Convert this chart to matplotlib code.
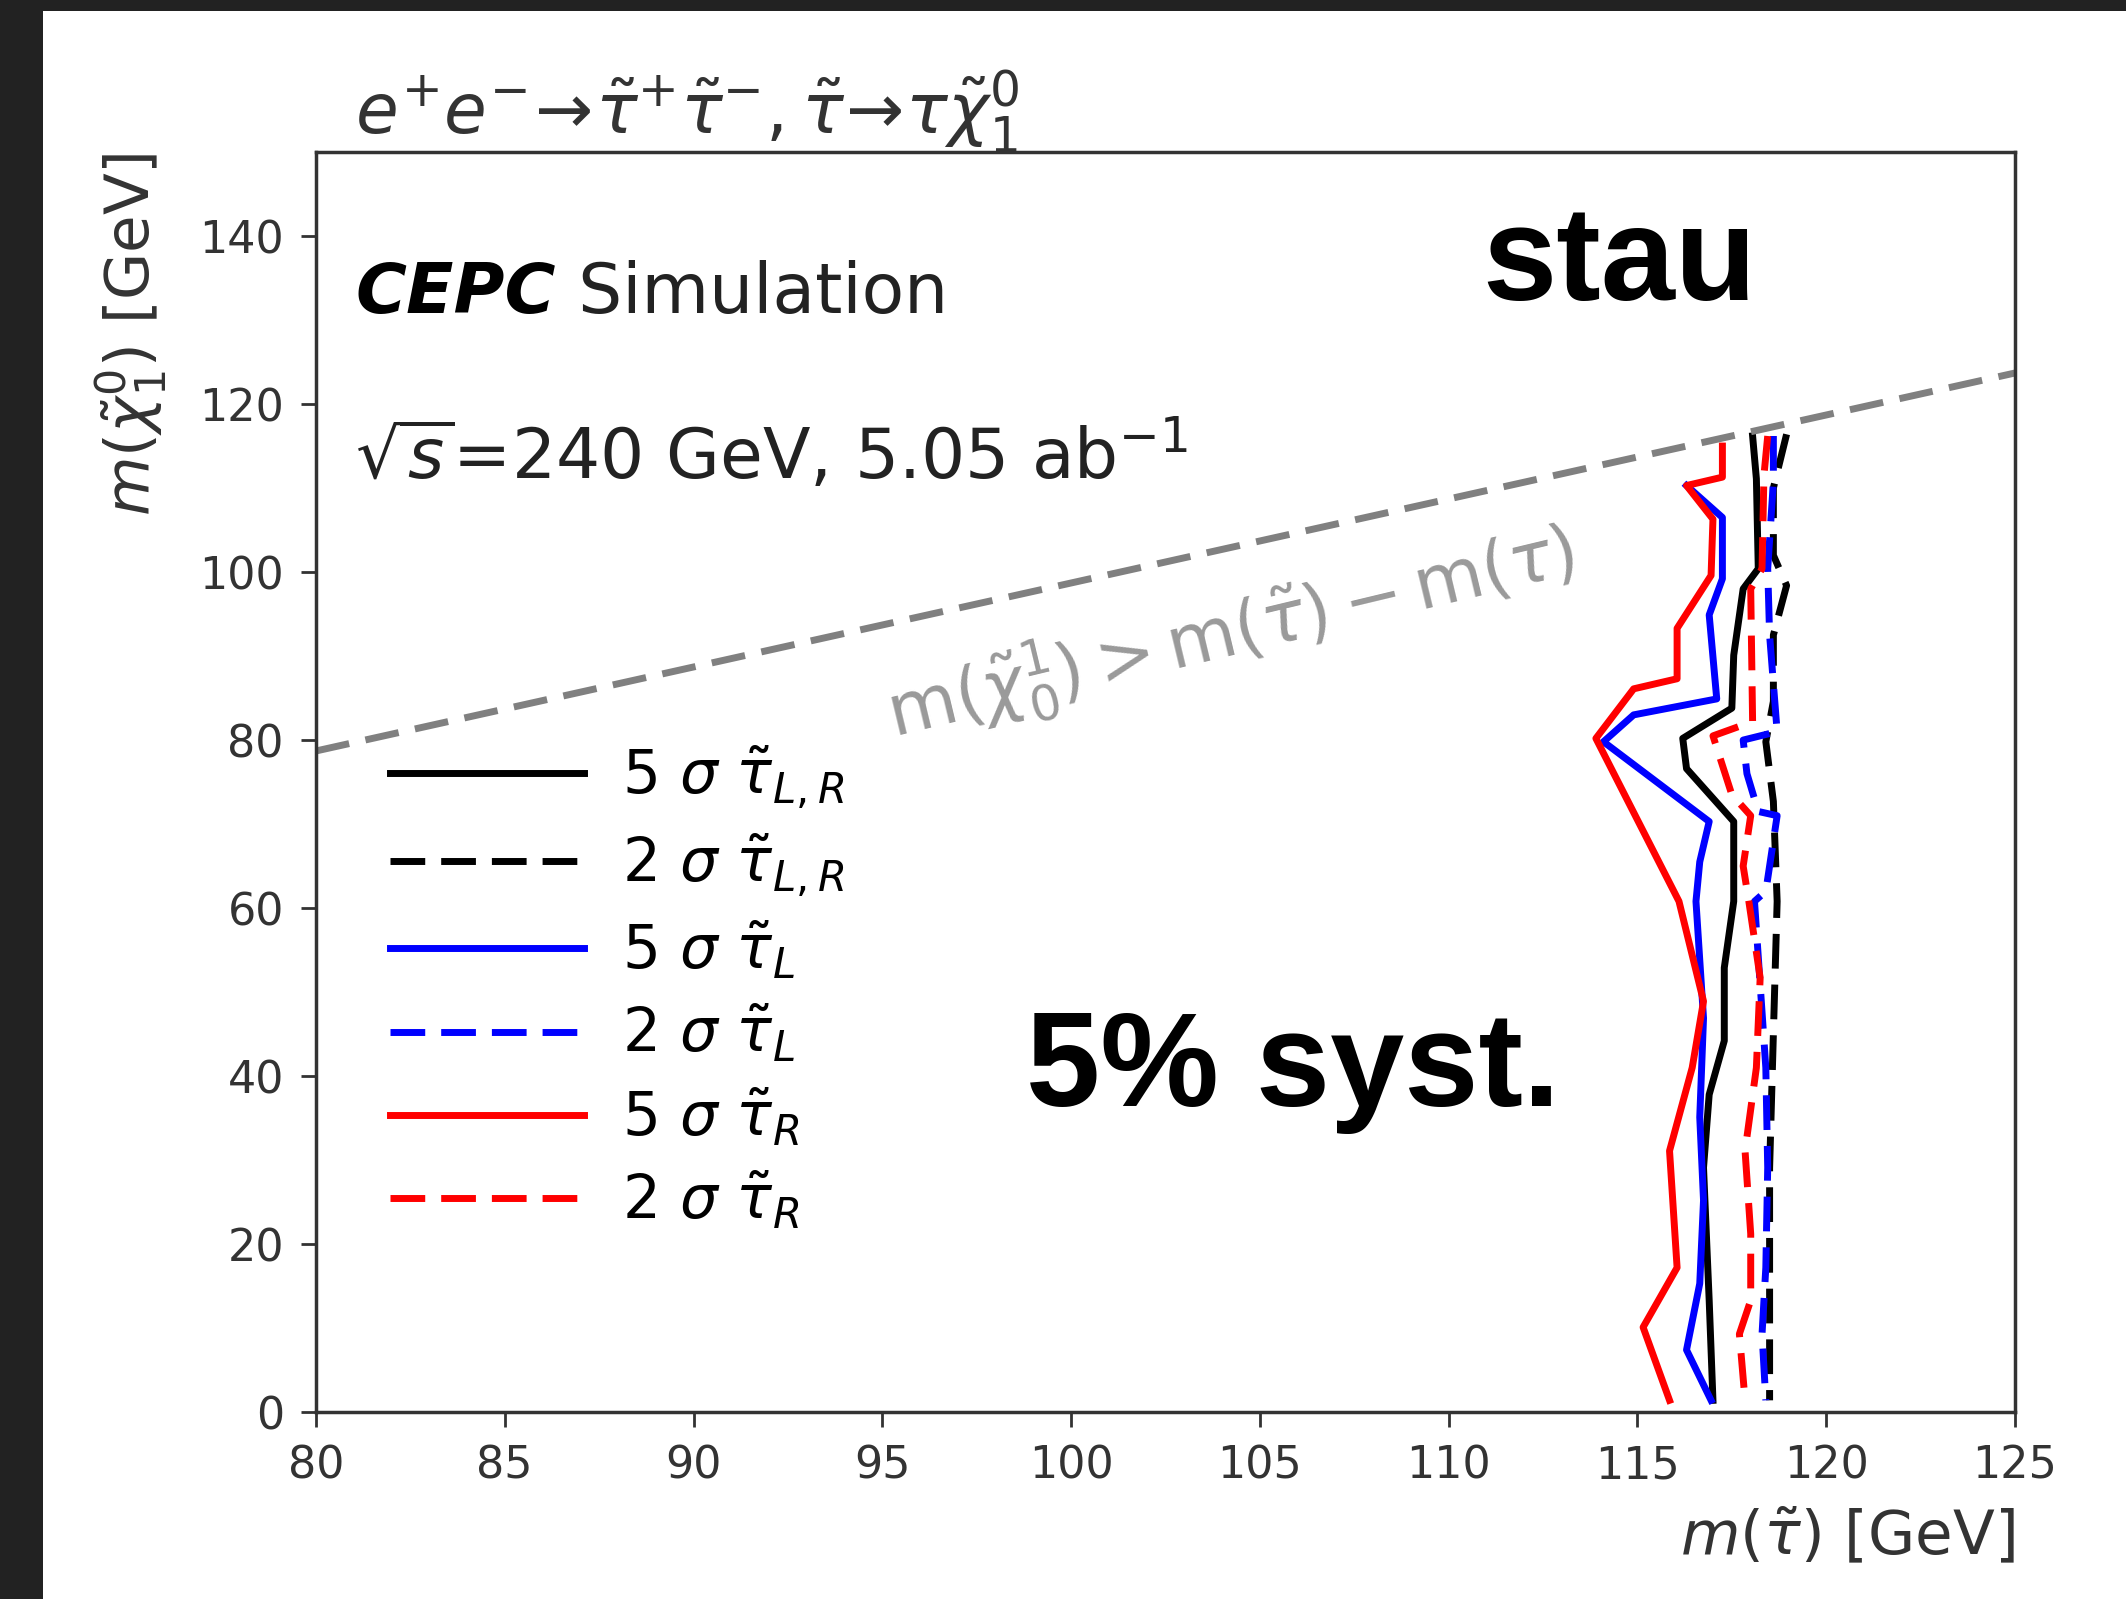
import numpy as np
import matplotlib
matplotlib.use("Agg")
import matplotlib.pyplot as plt
from matplotlib.patches import Rectangle

# exclusion contours: stau mass (x) vs neutralino mass (y), in GeV
y_5s_LR = [116.2, 111.1, 100.4, 98.0, 90.1, 83.8, 80.2, 76.6, 70.3, 60.8, 52.9, 44.2, 37.8, 29.1, 13.3, 1.4]
x_5s_LR = [118.05, 118.15, 118.2, 117.8, 117.55, 117.5, 116.2, 116.3, 117.55, 117.55, 117.3, 117.3, 116.9, 116.75, 116.9, 117.0]

y_2s_LR = [116.4, 110.0, 102.0, 98.4, 92.5, 84.6, 79.8, 72.7, 60.8, 45.0, 29.0, 17.0, 1.4]
x_2s_LR = [118.95, 118.6, 118.6, 118.95, 118.6, 118.6, 118.4, 118.6, 118.7, 118.6, 118.5, 118.5, 118.5]

y_5s_L = [110.3, 106.5, 99.2, 94.9, 84.9, 83.0, 79.8, 70.3, 65.5, 60.8, 46.9, 35.1, 25.2, 15.3, 7.4, 1.4]
x_5s_L = [116.3, 117.25, 117.25, 116.9, 117.1, 114.9, 114.1, 116.9, 116.65, 116.55, 116.75, 116.65, 116.75, 116.65, 116.3, 116.95]

y_2s_L = [116.2, 110.7, 100.4, 92.5, 81.0, 80.0, 76.0, 71.5, 71.0, 62.0, 60.8, 50.9, 41.0, 29.1, 17.2, 9.3, 1.4]
x_2s_L = [118.6, 118.6, 118.45, 118.5, 118.7, 117.8, 117.9, 118.2, 118.7, 118.4, 118.1, 118.25, 118.4, 118.45, 118.4, 118.3, 118.4]

y_5s_R = [115.0, 111.3, 110.3, 106.3, 99.6, 93.3, 87.3, 86.1, 80.2, 60.8, 48.9, 41.0, 31.1, 17.2, 10.1, 1.4]
x_5s_R = [117.25, 117.25, 116.3, 117.0, 116.95, 116.05, 116.05, 114.9, 113.9, 116.1, 116.75, 116.45, 115.85, 116.05, 115.15, 115.85]

y_2s_R = [116.2, 111.5, 100.4, 98.0, 82.2, 80.5, 73.5, 71.0, 65.0, 60.8, 51.7, 41.0, 31.1, 21.2, 13.3, 9.3, 1.4]
x_2s_R = [118.45, 118.35, 118.3, 118.0, 118.05, 117.0, 117.5, 118.0, 117.8, 117.95, 118.25, 118.15, 117.85, 118.0, 118.0, 117.7, 117.85]

m_tau = 1.3
x_kin = [80, 125]

fig = plt.figure(figsize=(21.26, 15.99), dpi=100, facecolor="#222222")
fig.patches.append(Rectangle((43 / 2126, 0), 1, 1 - 11 / 1599, transform=fig.transFigure,
                             facecolor="white", edgecolor="none", zorder=-10))
ax = fig.add_axes([0.1486, 0.1169, 0.7992, 0.788])

dash = (0, (5, 2.3))
lw = 5
ax.plot(x_5s_LR, y_5s_LR, c="black", lw=lw, label=r"5 $\sigma$ $\tilde{\tau}_{L,R}$")
ax.plot(x_2s_LR, y_2s_LR, c="black", lw=lw, ls=dash, label=r"2 $\sigma$ $\tilde{\tau}_{L,R}$")
ax.plot(x_5s_L, y_5s_L, c="blue", lw=lw, label=r"5 $\sigma$ $\tilde{\tau}_{L}$")
ax.plot(x_2s_L, y_2s_L, c="blue", lw=lw, ls=dash, label=r"2 $\sigma$ $\tilde{\tau}_{L}$")
ax.plot(x_5s_R, y_5s_R, c="red", lw=lw, label=r"5 $\sigma$ $\tilde{\tau}_{R}$")
ax.plot(x_2s_R, y_2s_R, c="red", lw=lw, ls=dash, label=r"2 $\sigma$ $\tilde{\tau}_{R}$")

# kinematic limit
ax.plot(x_kin, [v - m_tau for v in x_kin], c="grey", lw=5, ls=(0, (4.9, 2.4)))
ax.text(95.3, 80.3, r"$\mathrm{m}(\tilde{\chi}^1_0) > \mathrm{m}(\tilde{\tau}) - \mathrm{m}(\tau)$",
        color="grey", alpha=0.8, fontsize=51, rotation=13.5, rotation_mode="anchor")

ax.set_xlim(80, 125)
ax.set_ylim(0, 150)
ax.set_xticks(np.arange(80, 126, 5))
ax.set_yticks(np.arange(0, 141, 20))
ax.tick_params(labelsize=32, length=11, width=2, colors="#333333", pad=12)
for s in ax.spines.values():
    s.set_linewidth(2.5)
    s.set_color("#333333")

ax.set_xlabel(r"$m(\tilde{\tau})$ [GeV]", fontsize=44, loc="right", color="#333333", labelpad=14)
ax.set_ylabel(r"$m(\tilde{\chi}_1^0)$ [GeV]", fontsize=44, loc="top", color="#333333", labelpad=22)

ax.text(0.023, 0.998, r"$e^{+}e^{-}\!\rightarrow\!\tilde{\tau}^{+}\tilde{\tau}^{-}, \tilde{\tau}\!\rightarrow\!\tau\tilde{\chi}_{1}^{0}$",
        transform=ax.transAxes, fontsize=50, va="bottom", color="#333333")

t1 = ax.text(0.023, 0.888, "CEPC", transform=ax.transAxes, fontsize=50,
             fontweight="bold", fontstyle="italic", va="center")
ax.annotate(" Simulation", xy=(1, 0), xycoords=t1, fontsize=50, va="bottom", color="#222222")
ax.text(0.023, 0.759, r"$\sqrt{s}$=240 GeV, 5.05 ab$^{-1}$", transform=ax.transAxes,
        fontsize=50, va="center", color="#222222")

ax.text(110.9, 136.5, "stau", fontsize=96, fontweight="bold", family="Liberation Sans", va="center")
ax.text(98.8, 40.5, "5% syst.", fontsize=96, fontweight="bold", family="Liberation Sans", va="center")

ax.legend(loc="upper left", bbox_to_anchor=(0.012, 0.5735), frameon=False, fontsize=43,
          handlelength=3.25, handletextpad=0.64, labelspacing=0.35)

fig.savefig("out.png", dpi=100, facecolor=fig.get_facecolor())
